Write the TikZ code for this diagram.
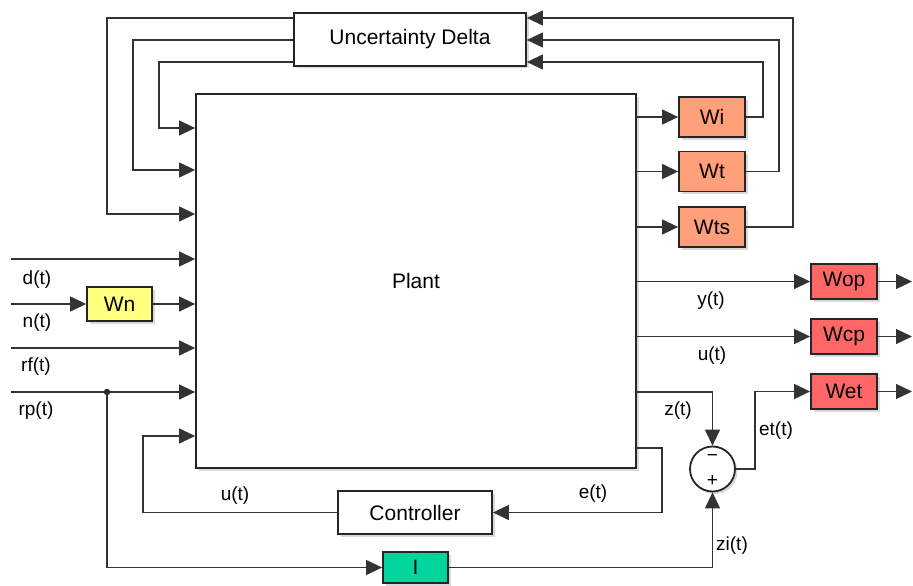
\documentclass[tikz,border=0pt]{standalone}
\usepackage{fontspec}
\setmainfont{Liberation Sans}
\usetikzlibrary{arrows.meta,shadows}
\definecolor{wsalmon}{HTML}{FFA07A}
\definecolor{wred}{HTML}{FF6666}
\definecolor{wyellow}{HTML}{FFFF80}
\definecolor{wgreen}{HTML}{00D59B}
\begin{document}
\begin{tikzpicture}[x=1pt,y=-1pt,
  sig/.style={draw=black!80,line width=1.3pt},
  arr/.style={sig,-{Triangle[length=16pt,width=15pt]}},
  blk/.style={draw=black!85,line width=1.8pt,fill=white,inner sep=0pt,
    drop shadow={shadow xshift=2.5pt,shadow yshift=-2.5pt,opacity=0.3},
    font=\fontsize{21}{24}\selectfont},
  wgt/.style={blk,minimum width=66pt,minimum height=40pt},
  outw/.style={blk,fill=wred,minimum width=66pt,minimum height=35pt},
  lbl/.style={font=\fontsize{19}{22}\selectfont,inner sep=0pt}]
  \useasboundingbox (0,0) rectangle (913,586);
  % blocks
  \node[blk,minimum width=440pt,minimum height=374pt] (plant) at (416,281) {Plant};
  \node[blk,minimum width=232pt,minimum height=53pt] (delta) at (410,39.5) {Uncertainty Delta};
  \node[wgt,fill=wsalmon] (wi) at (712,117) {Wi};
  \node[wgt,fill=wsalmon] (wt) at (712,171.5) {Wt};
  \node[wgt,fill=wsalmon] (wts) at (712,227) {Wts};
  \node[blk,fill=wyellow,minimum width=65pt,minimum height=34pt] (wn) at (119.5,304) {Wn};
  \node[outw] (wop) at (844,281.5) {Wop};
  \node[outw] (wcp) at (844,336.5) {Wcp};
  \node[outw] (wet) at (844,391.5) {Wet};
  \node[blk,minimum width=154pt,minimum height=43pt] (ctrl) at (415,512.5) {Controller};
  \node[blk,fill=wgreen,minimum width=65pt,minimum height=31pt] (intg) at (415.5,567.5) {I};
  \node[blk,circle,minimum size=45pt] (sum) at (712.5,469) {};
  \node[font=\fontsize{19}{22}\selectfont,inner sep=0pt] (sminus) at (712.5,458) {−};
  \node[font=\fontsize{19}{22}\selectfont,inner sep=0pt] (splus) at (712.5,481) {+};
  % uncertainty loop
  \foreach \yd/\xr/\yp in {18/107/214, 40/133/170, 62/159/128}
    \draw[arr] (delta.west |- 0,\yd) -| (\xr,\yp) -- (plant.west |- 0,\yp);
  \foreach \w/\xr/\yd in {wi/763/62, wt/779/40, wts/793/18} {
    \draw[arr] (plant.east |- \w) -- (\w.west);
    \draw[arr] (\w.east) -| (\xr,\yd) -- (delta.east |- 0,\yd);
  }
  % exogenous inputs
  \coordinate (din) at (11,259);
  \coordinate (nin) at (11,304);
  \coordinate (rfin) at (11,348);
  \coordinate (rpin) at (11,392);
  \coordinate (rpdot) at (107,392);
  \draw[arr] (din) -- (plant.west |- din);
  \draw[arr] (nin) -- (wn.west);
  \draw[arr] (wn.east) -- (plant.west |- wn);
  \draw[arr] (rfin) -- (plant.west |- rfin);
  \draw[arr] (rpin) -- (plant.west |- rpin);
  \fill[black!85] (rpdot) circle (3.2pt);
  \draw[arr] (rpdot) |- (intg.west);
  \draw[arr] (intg.east) -| (sum.south);
  % controller loop
  \draw[arr] (ctrl.west) -| (143,436) -- (plant.west |- 0,436);
  \draw[arr] (plant.east |- 0,448) -- (662,448) |- (ctrl.east);
  % performance outputs
  \draw[arr] (plant.east |- 0,392) -| (sum.north);
  \draw[arr] (sum.east) -- (755,469) |- (wet.west);
  \draw[arr] (plant.east |- wop) -- (wop.west);
  \draw[arr] (plant.east |- wcp) -- (wcp.west);
  \foreach \w in {wop,wcp,wet}
    \draw[arr] (\w.east) -- (912,0 |- \w);
  % signal labels
  \node[lbl] at (37,280) {d(t)};
  \node[lbl] at (37,323) {n(t)};
  \node[lbl] at (36,367) {rf(t)};
  \node[lbl] at (36,411) {rp(t)};
  \node[lbl] at (711,301) {y(t)};
  \node[lbl] at (712,356) {u(t)};
  \node[lbl] at (678,411) {z(t)};
  \node[lbl] at (776,431) {et(t)};
  \node[lbl] at (235,496) {u(t)};
  \node[lbl] at (593,494) {e(t)};
  \node[lbl] at (732,546) {zi(t)};
\end{tikzpicture}
\end{document}
